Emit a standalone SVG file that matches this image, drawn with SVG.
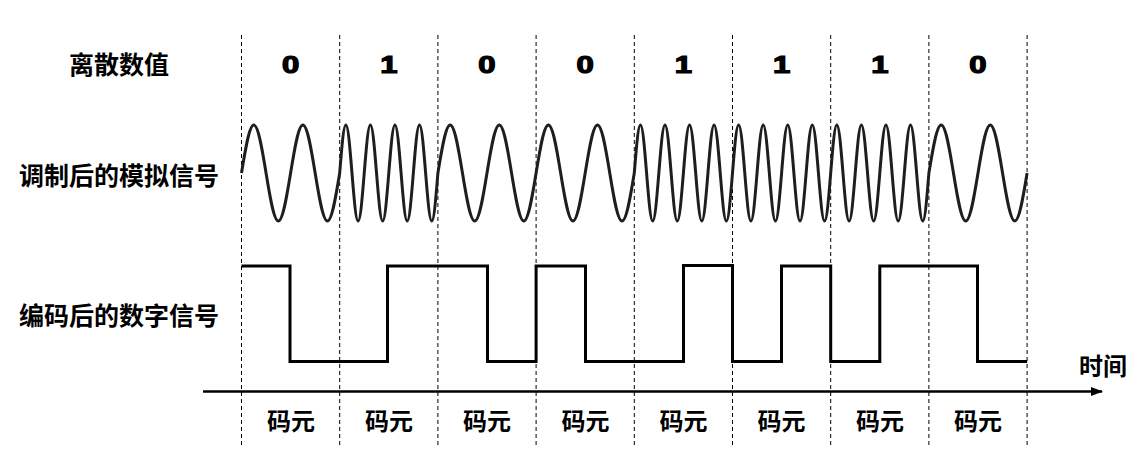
<svg xmlns="http://www.w3.org/2000/svg" width="1137" height="452" viewBox="0 0 1137 452">
  <style>
    .grid { stroke: #000; stroke-width: 1; stroke-dasharray: 4 3; fill: none; }
    .lbl { font-family: "Noto Sans CJK SC", "Liberation Sans", sans-serif; font-weight: 700; font-size: 25px; fill: #000; text-anchor: middle; dominant-baseline: central; }
    .unit { font-family: "Noto Sans CJK SC", "Liberation Sans", sans-serif; font-weight: 700; font-size: 24px; fill: #000; text-anchor: middle; dominant-baseline: central; }
    .bit { font-family: "Liberation Sans", Arial, sans-serif; font-weight: 700; font-size: 23px; fill: #000; stroke: #000; stroke-width: 1.2; text-anchor: middle; }
    .wave { fill: none; stroke: #1e1e1e; stroke-width: 3; }
    .digital { fill: none; stroke: #000; stroke-width: 3; stroke-linejoin: miter; }
    .axis { stroke: #000; stroke-width: 2.5; fill: none; }
  </style>
  <defs>
    <marker id="arrow" markerWidth="12" markerHeight="10" refX="11" refY="5" orient="auto" markerUnits="userSpaceOnUse">
      <polygon points="0,0.5 12,5 0,9.5" fill="#000"/>
    </marker>
  </defs>
  <rect width="1137" height="452" fill="#fff"/>

  <g id="gridlines">
    <line class="grid" x1="241.5" y1="35" x2="241.5" y2="446"/>
    <line class="grid" x1="339.7" y1="35" x2="339.7" y2="446"/>
    <line class="grid" x1="437.9" y1="35" x2="437.9" y2="446"/>
    <line class="grid" x1="536.1" y1="35" x2="536.1" y2="446"/>
    <line class="grid" x1="634.3" y1="35" x2="634.3" y2="446"/>
    <line class="grid" x1="732.5" y1="35" x2="732.5" y2="446"/>
    <line class="grid" x1="830.7" y1="35" x2="830.7" y2="446"/>
    <line class="grid" x1="928.9" y1="35" x2="928.9" y2="446"/>
    <line class="grid" x1="1027.1" y1="35" x2="1027.1" y2="446"/>
  </g>

  <g id="row-labels">
    <text class="lbl" x="119" y="63">离散数值</text>
    <text class="lbl" x="119" y="174">调制后的模拟信号</text>
    <text class="lbl" x="119" y="314">编码后的数字信号</text>
  </g>

  <g id="bits">
    <text class="bit" transform="translate(290.6,73.4) scale(1.35,1)">0</text>
    <text class="bit" transform="translate(388.8,73.4) scale(1.35,1)">1</text>
    <text class="bit" transform="translate(487,73.4) scale(1.35,1)">0</text>
    <text class="bit" transform="translate(585.2,73.4) scale(1.35,1)">0</text>
    <text class="bit" transform="translate(683.4,73.4) scale(1.35,1)">1</text>
    <text class="bit" transform="translate(781.6,73.4) scale(1.35,1)">1</text>
    <text class="bit" transform="translate(879.8,73.4) scale(1.35,1)">1</text>
    <text class="bit" transform="translate(978,73.4) scale(1.35,1)">0</text>
  </g>

  <g id="analog-signal">
    <path class="wave" d="M241.5,173
      c4,-24.59 7.86,-48 12.275,-48 s8.27,23.41 12.275,48 s7.86,48 12.275,48 s8.27,-23.41 12.275,-48 s7.86,-48 12.275,-48 s8.27,23.41 12.275,48 s7.86,48 12.275,48 s8.27,-23.41 12.275,-48
      c2,-24.59 3.93,-48 6.1375,-48 s4.14,23.41 6.1375,48 s3.93,48 6.1375,48 s4.14,-23.41 6.1375,-48 s3.93,-48 6.1375,-48 s4.14,23.41 6.1375,48 s3.93,48 6.1375,48 s4.14,-23.41 6.1375,-48 s3.93,-48 6.1375,-48 s4.14,23.41 6.1375,48 s3.93,48 6.1375,48 s4.14,-23.41 6.1375,-48 s3.93,-48 6.1375,-48 s4.14,23.41 6.1375,48 s3.93,48 6.1375,48 s4.14,-23.41 6.1375,-48
      c4,-24.59 7.86,-48 12.275,-48 s8.27,23.41 12.275,48 s7.86,48 12.275,48 s8.27,-23.41 12.275,-48 s7.86,-48 12.275,-48 s8.27,23.41 12.275,48 s7.86,48 12.275,48 s8.27,-23.41 12.275,-48
      c4,-24.59 7.86,-48 12.275,-48 s8.27,23.41 12.275,48 s7.86,48 12.275,48 s8.27,-23.41 12.275,-48 s7.86,-48 12.275,-48 s8.27,23.41 12.275,48 s7.86,48 12.275,48 s8.27,-23.41 12.275,-48
      c2,-24.59 3.93,-48 6.1375,-48 s4.14,23.41 6.1375,48 s3.93,48 6.1375,48 s4.14,-23.41 6.1375,-48 s3.93,-48 6.1375,-48 s4.14,23.41 6.1375,48 s3.93,48 6.1375,48 s4.14,-23.41 6.1375,-48 s3.93,-48 6.1375,-48 s4.14,23.41 6.1375,48 s3.93,48 6.1375,48 s4.14,-23.41 6.1375,-48 s3.93,-48 6.1375,-48 s4.14,23.41 6.1375,48 s3.93,48 6.1375,48 s4.14,-23.41 6.1375,-48
      c2,-24.59 3.93,-48 6.1375,-48 s4.14,23.41 6.1375,48 s3.93,48 6.1375,48 s4.14,-23.41 6.1375,-48 s3.93,-48 6.1375,-48 s4.14,23.41 6.1375,48 s3.93,48 6.1375,48 s4.14,-23.41 6.1375,-48 s3.93,-48 6.1375,-48 s4.14,23.41 6.1375,48 s3.93,48 6.1375,48 s4.14,-23.41 6.1375,-48 s3.93,-48 6.1375,-48 s4.14,23.41 6.1375,48 s3.93,48 6.1375,48 s4.14,-23.41 6.1375,-48
      c2,-24.59 3.93,-48 6.1375,-48 s4.14,23.41 6.1375,48 s3.93,48 6.1375,48 s4.14,-23.41 6.1375,-48 s3.93,-48 6.1375,-48 s4.14,23.41 6.1375,48 s3.93,48 6.1375,48 s4.14,-23.41 6.1375,-48 s3.93,-48 6.1375,-48 s4.14,23.41 6.1375,48 s3.93,48 6.1375,48 s4.14,-23.41 6.1375,-48 s3.93,-48 6.1375,-48 s4.14,23.41 6.1375,48 s3.93,48 6.1375,48 s4.14,-23.41 6.1375,-48
      c4,-24.59 7.86,-48 12.275,-48 s8.27,23.41 12.275,48 s7.86,48 12.275,48 s8.27,-23.41 12.275,-48 s7.86,-48 12.275,-48 s8.27,23.41 12.275,48 s7.86,48 12.275,48 s8.27,-23.41 12.275,-48"/>
  </g>

  <g id="digital-signal">
    <path class="digital" d="M241.5,266 H290 V361.5 H387.5 V266 H487.5 V361.5 H536.1 V266 H585.5 V361.5 H683.5 V265.5 H732.5 V361.5 H781.5 V266 H830.7 V361.5 H879.8 V266 H977.5 V361.5 H1027.1"/>
  </g>

  <g id="connectors">
    <line class="axis" x1="203" y1="391.5" x2="1102" y2="391.5" marker-end="url(#arrow)"/>
  </g>

  <g id="time-label">
    <text class="unit" x="1103" y="364">时间</text>
  </g>

  <g id="symbol-labels">
    <text class="unit" x="291" y="419">码元</text>
    <text class="unit" x="389" y="419">码元</text>
    <text class="unit" x="487" y="419">码元</text>
    <text class="unit" x="585.5" y="419">码元</text>
    <text class="unit" x="683.5" y="419">码元</text>
    <text class="unit" x="781.5" y="419">码元</text>
    <text class="unit" x="880" y="419">码元</text>
    <text class="unit" x="978" y="419">码元</text>
  </g>
</svg>
